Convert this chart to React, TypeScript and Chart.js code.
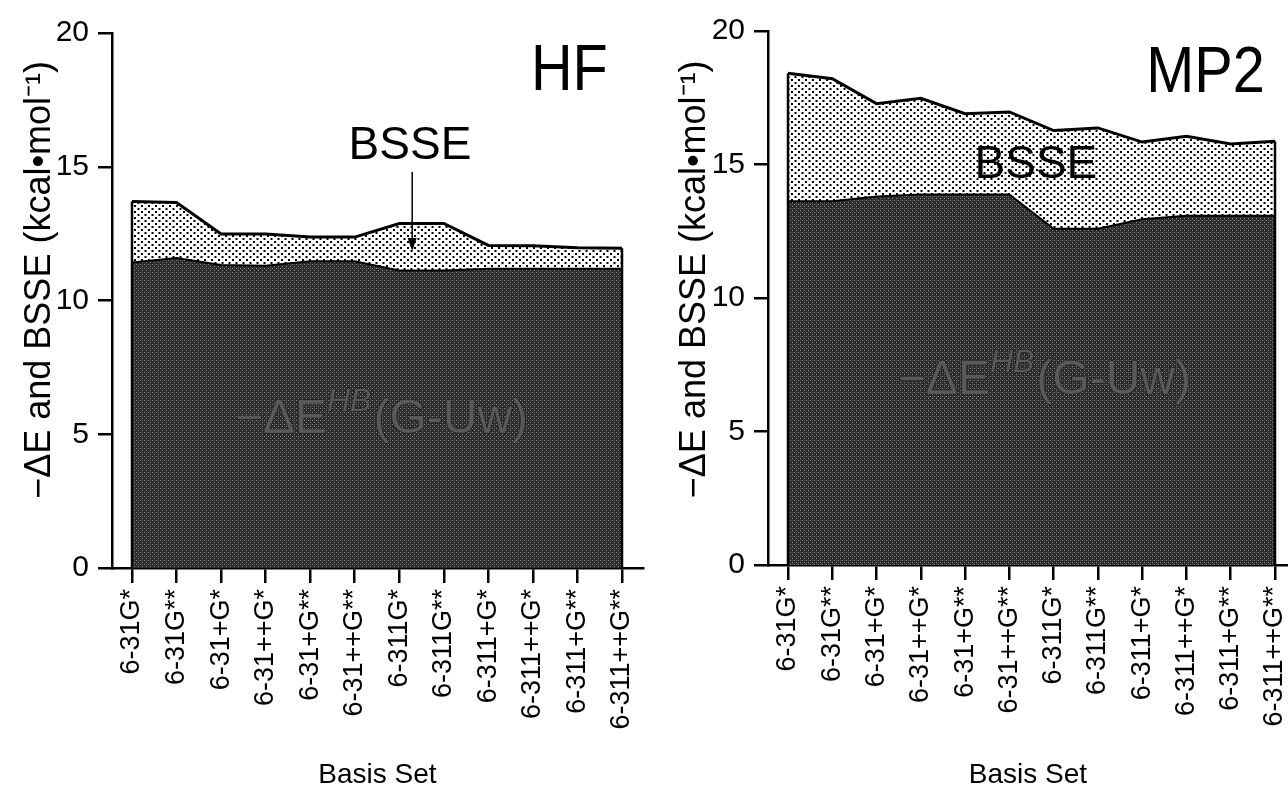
import React, { useEffect, useRef } from "react";
import { Chart, registerables } from "chart.js";

Chart.register(...registerables);

// ---------------- data ----------------
const basisSets = [
  "6-31G*", "6-31G**", "6-31+G*", "6-31++G*", "6-31+G**", "6-31++G**",
  "6-311G*", "6-311G**", "6-311+G*", "6-311++G*", "6-311+G**", "6-311++G**",
];
const hfDeltaE = [11.42, 11.59, 11.33, 11.30, 11.47, 11.47, 11.12, 11.12, 11.19, 11.19, 11.19, 11.19];
const hfBSSE = [2.28, 2.07, 1.16, 1.19, 0.90, 0.90, 1.76, 1.76, 0.87, 0.86, 0.78, 0.76];
const mp2DeltaE = [13.62, 13.62, 13.80, 13.88, 13.88, 13.88, 12.59, 12.59, 12.95, 13.08, 13.08, 13.08];
const mp2BSSE = [4.80, 4.59, 3.48, 3.60, 3.02, 3.09, 3.68, 3.78, 2.89, 2.98, 2.69, 2.79];
const yTickValues = [0, 5, 10, 15, 20];
const yAxisTitle = "\u2212\u0394E and BSSE (kcal\u2022mol\u207B\u00B9)";
const xAxisTitle = "Basis Set";
const bsseLabel = "BSSE";

const FONT = '"Liberation Sans", Arial, Helvetica, sans-serif';

// ---------------- layout / style per panel ----------------
const panels = [
  {
    key: "hf",
    title: "HF",
    deltaE: hfDeltaE,
    bsse: hfBSSE,
    left: 0,
    width: 650,
    yAxisWidth: 112,
    padTop: 33,
    padRight: 7,
    xAxisHeight: 232,
    xMin: -0.449,
    xMax: 11.471,
    titleAt: { i: 10.68, v: 17.87 },
    bsseAt: { i: 6.24, v: 15.3 },
    arrow: { i: 6.29, from: 14.8, to: 11.85 },
    deAt: { i: 2.31, v: 5.05 },
    yTitleOffset: 72,
    yTitleV: 10.77,
  },
  {
    key: "mp2",
    title: "MP2",
    deltaE: mp2DeltaE,
    bsse: mp2BSSE,
    left: 650,
    width: 638,
    yAxisWidth: 118,
    padTop: 31,
    padRight: 0,
    xAxisHeight: 235,
    xMin: -0.452,
    xMax: 11.294,
    titleAt: { i: 10.77, v: 17.72 },
    bsseAt: { i: 5.6, v: 14.5 },
    arrow: null,
    deAt: { i: 2.48, v: 6.4 },
    yTitleOffset: 73,
    yTitleV: 10.7,
  },
];

function makeDarkPattern(ctx: CanvasRenderingContext2D) {
  const c = document.createElement("canvas");
  c.width = 4;
  c.height = 4;
  const g = c.getContext("2d")!;
  g.fillStyle = "#2c2c2c";
  g.fillRect(0, 0, 4, 4);
  g.fillStyle = "#8a8a8a";
  g.fillRect(0, 0, 1, 1);
  g.fillRect(2, 2, 1, 1);
  g.fillStyle = "#505050";
  g.fillRect(2, 0, 1, 1);
  return ctx.createPattern(c, "repeat")!;
}

function makeDotPattern(ctx: CanvasRenderingContext2D) {
  const c = document.createElement("canvas");
  c.width = 7;
  c.height = 6;
  const g = c.getContext("2d")!;
  g.fillStyle = "#ffffff";
  g.fillRect(0, 0, 7, 6);
  g.fillStyle = "#000000";
  g.fillRect(1, 1, 2, 2);
  g.fillRect(4.5, 4, 2, 2);
  return ctx.createPattern(c, "repeat")!;
}

function decorPlugin(p: any) {
  return {
    id: "decor_" + p.key,
    afterDatasetsDraw(chart: any) {
      const { ctx, scales } = chart;
      const x = scales.x;
      const y = scales.y;
      const n = p.deltaE.length;
      ctx.save();
      // vertical edges of the filled areas
      ctx.strokeStyle = "#000";
      ctx.lineWidth = 2.5;
      [0, n - 1].forEach((i) => {
        const px = x.getPixelForValue(i);
        ctx.beginPath();
        ctx.moveTo(px, y.getPixelForValue(0));
        ctx.lineTo(px, y.getPixelForValue(p.deltaE[i] + p.bsse[i]));
        ctx.stroke();
      });

      // panel title (slightly condensed like the original typeface)
      ctx.fillStyle = "#000";
      ctx.textBaseline = "alphabetic";
      ctx.save();
      ctx.translate(x.getPixelForValue(p.titleAt.i), y.getPixelForValue(p.titleAt.v));
      ctx.scale(0.9, 1);
      ctx.font = `64px ${FONT}`;
      ctx.textAlign = "right";
      ctx.fillText(p.title, 0, 0);
      ctx.restore();

      // BSSE label
      ctx.font = `46px ${FONT}`;
      ctx.textAlign = "center";
      ctx.fillText(bsseLabel, x.getPixelForValue(p.bsseAt.i), y.getPixelForValue(p.bsseAt.v));

      // arrow
      if (p.arrow) {
        const ax = x.getPixelForValue(p.arrow.i);
        const y1 = y.getPixelForValue(p.arrow.from);
        const y2 = y.getPixelForValue(p.arrow.to);
        ctx.lineWidth = 1.5;
        ctx.beginPath();
        ctx.moveTo(ax, y1);
        ctx.lineTo(ax, y2 - 8);
        ctx.stroke();
        ctx.beginPath();
        ctx.moveTo(ax - 4.5, y2 - 13);
        ctx.lineTo(ax + 4.5, y2 - 13);
        ctx.lineTo(ax, y2);
        ctx.closePath();
        ctx.fill();
      }

      // -ΔE^HB(G-Uw) label
      const bx = x.getPixelForValue(p.deAt.i);
      const by = y.getPixelForValue(p.deAt.v);
      ctx.textAlign = "left";
      ctx.fillStyle = "#595959";
      ctx.strokeStyle = "#1c1c1c";
      ctx.lineWidth = 1.2;
      const parts = [
        { t: "\u2212\u0394E", f: `48px ${FONT}`, dy: 0, gap: 0 },
        { t: "HB", f: `italic 32px ${FONT}`, dy: -22, gap: 2 },
        { t: "(G-Uw)", f: `48px ${FONT}`, dy: 0, gap: 0 },
      ];
      let cx = bx;
      parts.forEach((pt) => {
        ctx.font = pt.f;
        ctx.strokeText(pt.t, cx, by + pt.dy);
        ctx.fillText(pt.t, cx, by + pt.dy);
        cx += ctx.measureText(pt.t).width + pt.gap;
      });

      ctx.restore();

      // y axis title
      ctx.save();
      ctx.fillStyle = "#000";
      ctx.font = `36px ${FONT}`;
      ctx.textAlign = "center";
      ctx.textBaseline = "middle";
      ctx.translate(chart.chartArea.left - p.yTitleOffset, y.getPixelForValue(p.yTitleV));
      ctx.rotate(-Math.PI / 2);
      ctx.fillText(yAxisTitle, 0, 0);
      ctx.restore();
    },
  };
}

function Panel({ p }: { p: any }) {
  const ref = useRef<HTMLCanvasElement | null>(null);
  useEffect(() => {
    const canvas = ref.current!;
    const ctx = canvas.getContext("2d")!;
    const dark = makeDarkPattern(ctx);
    const dots = makeDotPattern(ctx);
    const deltaPts = p.deltaE.map((v: number, i: number) => ({ x: i, y: v }));
    const totalPts = p.deltaE.map((v: number, i: number) => ({ x: i, y: v + p.bsse[i] }));

    const chart = new Chart(ctx, {
      type: "line",
      data: {
        datasets: [
          {
            label: "-ΔE(HB)",
            data: deltaPts,
            borderColor: "#000",
            borderWidth: 2,
            backgroundColor: dark,
            fill: "origin",
            pointRadius: 0,
            tension: 0,
          },
          {
            label: "BSSE",
            data: totalPts,
            borderColor: "#000",
            borderWidth: 3,
            backgroundColor: dots,
            fill: "-1",
            pointRadius: 0,
            tension: 0,
          },
        ],
      },
      options: {
        responsive: false,
        animation: false,
        devicePixelRatio: 1,
        layout: {
          autoPadding: false,
          padding: { top: p.padTop, right: p.padRight, left: 0, bottom: 0 },
        },
        plugins: {
          legend: { display: false },
          tooltip: { enabled: false },
          title: { display: false },
        },
        scales: {
          x: {
            type: "linear",
            min: p.xMin,
            max: p.xMax,
            afterBuildTicks: (scale: any) => {
              scale.ticks = basisSets.map((_, i) => ({ value: i }));
            },
            afterFit: (scale: any) => {
              scale.height = p.xAxisHeight;
              scale.paddingLeft = 0;
              scale.paddingRight = 0;
            },
            ticks: {
              autoSkip: false,
              minRotation: 90,
              maxRotation: 90,
              padding: 6,
              color: "#000",
              font: { family: FONT, size: 27 },
              callback: (v: any) => basisSets[Math.round(Number(v))] ?? "",
            },
            grid: {
              drawOnChartArea: false,
              drawTicks: true,
              tickLength: 15,
              color: "#000",
              lineWidth: 2.5,
            },
            border: { display: true, color: "#000", width: 2.5 },
            title: {
              display: true,
              text: xAxisTitle,
              color: "#000",
              font: { family: FONT, size: 28 },
              padding: { top: 0, bottom: 8 },
            },
          },
          y: {
            type: "linear",
            min: 0,
            max: 20,
            afterBuildTicks: (scale: any) => {
              scale.ticks = yTickValues.map((v) => ({ value: v }));
            },
            afterFit: (scale: any) => {
              scale.width = p.yAxisWidth;
              scale.paddingTop = 0;
              scale.paddingBottom = 0;
            },
            ticks: {
              padding: 9,
              color: "#000",
              font: { family: FONT, size: 30 },
            },
            grid: {
              drawOnChartArea: false,
              drawTicks: true,
              tickLength: 14,
              color: "#000",
              lineWidth: 2.5,
            },
            border: { display: true, color: "#000", width: 2.5 },
          },
        },
      },
      plugins: [decorPlugin(p)],
    });
    return () => chart.destroy();
  }, [p]);

  return (
    <canvas
      ref={ref}
      width={p.width}
      height={800}
      style={{ position: "absolute", left: p.left, top: 0, width: p.width, height: 800, display: "block" }}
    />
  );
}

export default function App() {
  return (
    <div
      style={{
        position: "fixed",
        left: 0,
        top: 0,
        width: 1288,
        height: 800,
        background: "#fff",
        overflow: "hidden",
      }}
    >
      {panels.map((p) => (
        <Panel key={p.key} p={p} />
      ))}
    </div>
  );
}
